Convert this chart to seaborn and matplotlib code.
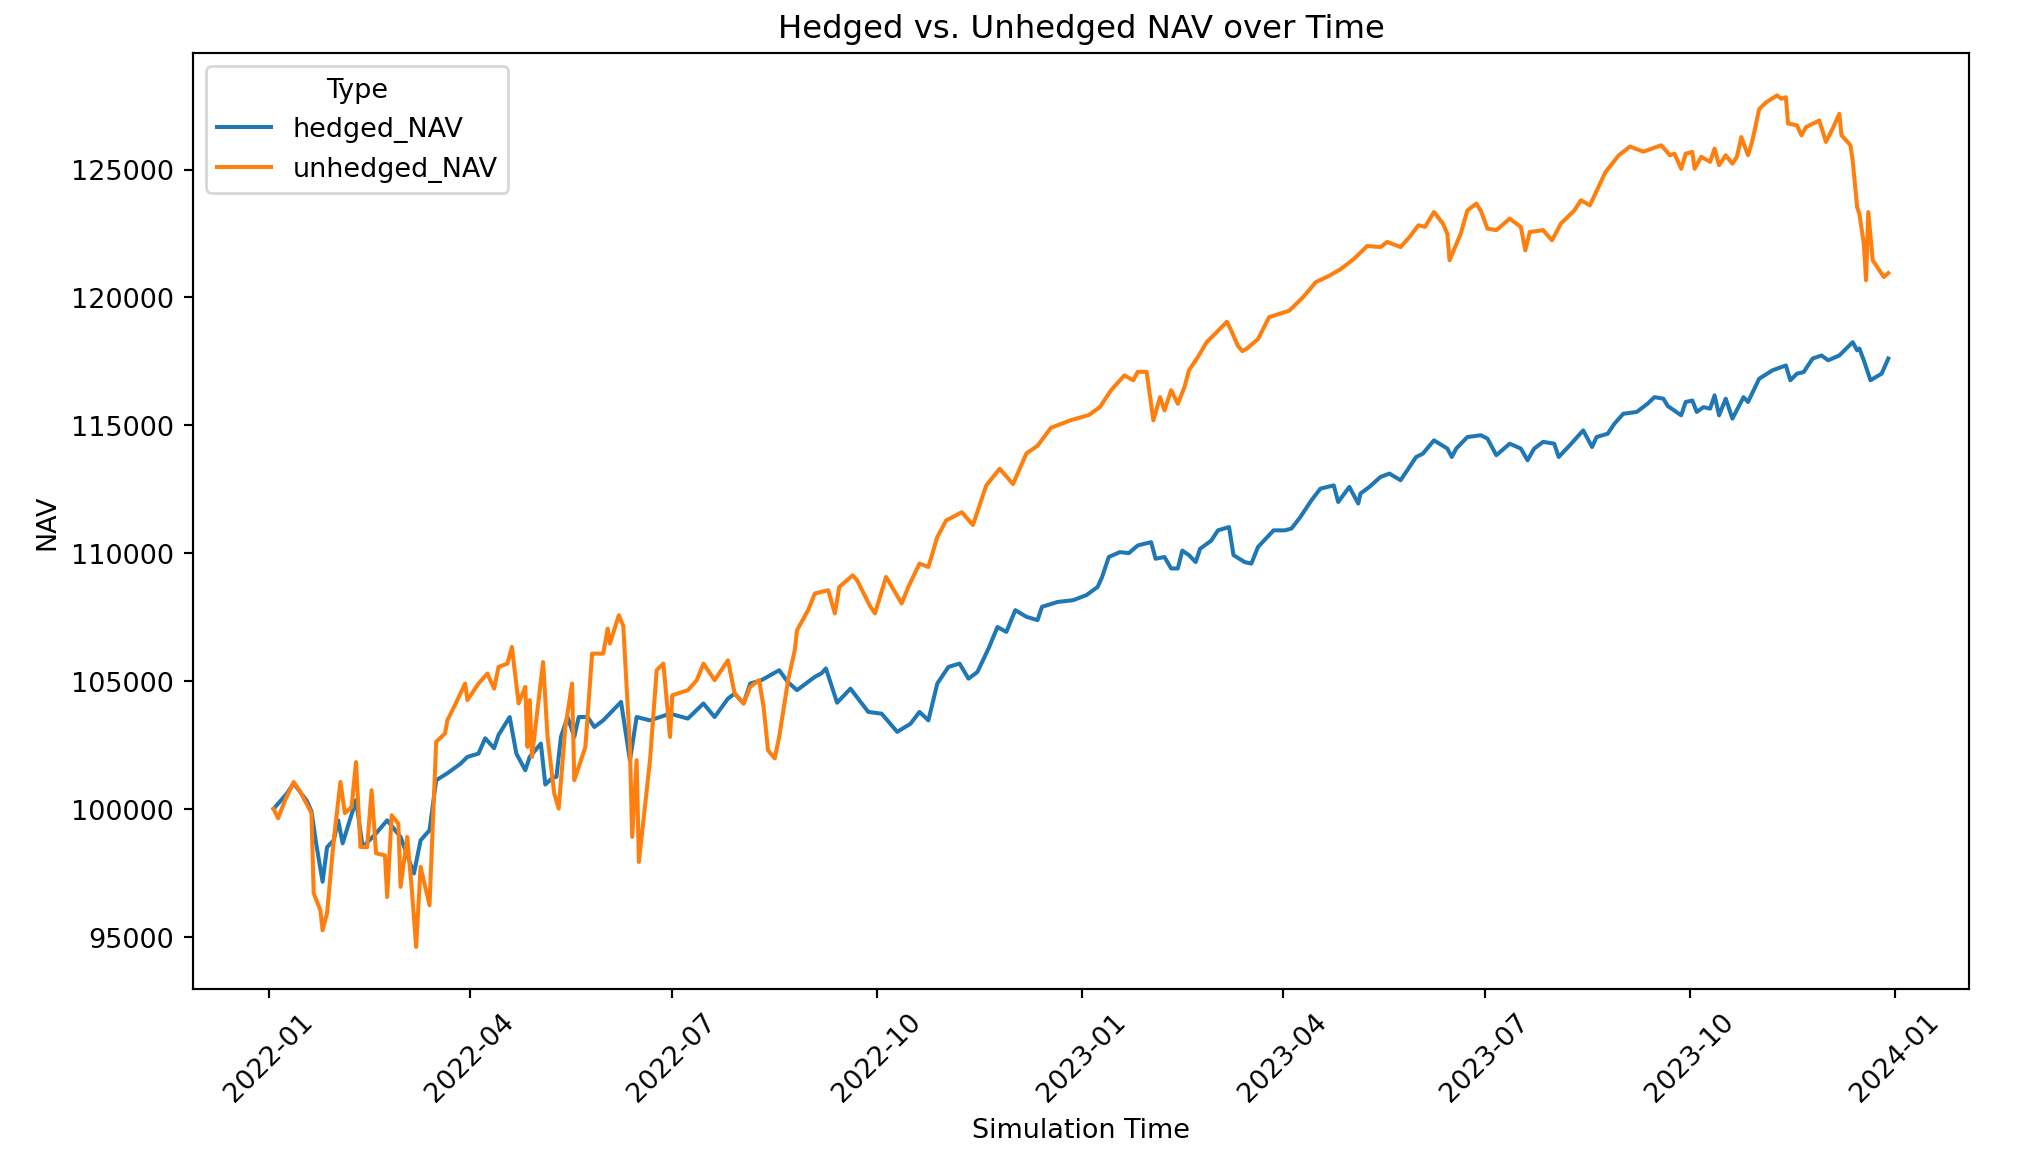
import matplotlib
matplotlib.use("Agg")
import matplotlib.pyplot as plt
import pandas as pd
import seaborn as sns

# simulation day counter (days since 2022-01-01) and NAV
hedged_day = [2, 5, 8, 11, 14, 17, 19, 21, 24, 26, 29, 31, 33, 39, 42, 48, 53, 59, 65, 68,
              72, 75, 80, 86, 89, 94, 97, 101, 103, 108, 111, 115, 117, 122, 124, 127, 129, 131,
              134, 137, 139, 143, 146, 150, 158, 162, 165, 171, 180, 188, 195, 200, 206, 209,
              213, 216, 221, 229, 233, 237, 245, 248, 250, 255, 261, 269, 275, 282, 288, 292,
              296, 300, 305, 310, 314, 318, 323, 327, 331, 335, 340, 345, 347, 354, 361, 367,
              372, 374, 377, 382, 386, 390, 396, 398, 402, 405, 408, 410, 413, 416, 418, 423,
              426, 431, 433, 438, 441, 444, 451, 456, 459, 463, 468, 472, 478, 480, 485, 489,
              490, 494, 499, 503, 508, 511, 515, 518, 523, 529, 531, 533, 538, 544, 547, 551,
              557, 562, 565, 568, 572, 577, 579, 584, 590, 594, 596, 601, 604, 608, 614, 619,
              622, 626, 628, 634, 636, 639, 641, 644, 647, 649, 651, 654, 657, 662, 664, 669,
              675, 681, 683, 686, 689, 693, 697, 700, 705, 711, 713, 714, 716, 719, 724, 727]
hedged_nav = [100000, 100300, 100600, 101000, 100650, 100300, 99900, 98700, 97150, 98500,
              98770, 99550, 98650, 100340, 98500, 99040, 99550, 98900, 97470, 98770,
              99160, 101120, 101390, 101770, 102030, 102160, 102760, 102370, 102890, 103590,
              102160, 101510, 102030, 102550, 100950, 101200, 101250, 102810,
              103590, 102810, 103590, 103590, 103200, 103460, 104180, 101900, 103590, 103460,
              103720, 103530, 104120, 103590, 104310, 104510,
              104120, 104900, 105030, 105420, 104950, 104640, 105160, 105300, 105490, 104150,
              104700, 103790, 103720, 103010, 103330, 103790,
              103460, 104900, 105550, 105680, 105090, 105350, 106270, 107110, 106920, 107770,
              107510, 107380, 107900, 108090, 108160, 108360,
              108680, 109070, 109850, 110040, 110000, 110300, 110430, 109780, 109850, 109400,
              109400, 110100, 109920, 109650, 110170, 110490,
              110890, 111020, 109920, 109650, 109590, 110240, 110890, 110890, 110960, 111410,
              112070, 112520, 112650, 112000, 112590, 111940,
              112330, 112590, 112980, 113110, 112850, 113240, 113760, 113890, 114410, 114090,
              113760, 114090, 114540, 114610, 114480, 113830,
              114280, 114090, 113630, 114090, 114350, 114280, 113760, 114220, 114800, 114150,
              114540, 114670, 115060, 115450, 115520, 115850,
              116100, 116040, 115750, 115390, 115910, 115970, 115520, 115710, 115650, 116170,
              115390, 116040, 115260, 116100, 115910, 116820,
              117150, 117340, 116760, 117020, 117080, 117610, 117730, 117540, 117730, 118250,
              117930, 118000, 117540, 116760, 117020, 117610]

unhedged_day = [2, 4, 7, 11, 14, 19, 20, 23, 24, 26, 29, 32, 34, 37, 39, 41, 44, 46, 48, 52,
                53, 55, 58, 59, 62, 64, 66, 68, 72, 75, 79, 80, 83, 88, 89, 94, 98, 101, 103,
                107, 109, 112, 115, 116, 117, 118, 123, 125, 128, 130, 133, 136, 137, 142, 145,
                150, 152, 153, 157, 159, 162, 163, 165, 166, 171, 174, 177, 180, 181, 188, 192,
                195, 200, 206, 209, 213, 216, 220, 222, 224, 227, 229, 233, 236, 237, 242, 245,
                251, 254, 256, 262, 264, 270, 272, 277, 284, 287, 292, 296, 300, 304, 311, 316,
                322, 328, 334, 340, 345, 351, 360, 368, 373, 378, 384, 388, 390, 394, 397, 400,
                402, 405, 408, 411, 413, 417, 421, 425, 430, 432, 435, 437, 439, 444, 449, 458,
                464, 470, 476, 481, 487, 493, 499, 502, 508, 512, 516, 519, 523, 527, 529, 530,
                535, 538, 542, 544, 547, 551, 557, 562, 564, 566, 572, 576, 580, 586, 589, 593,
                600, 606, 611, 617, 625, 629, 631, 634, 636, 639, 640, 643, 647, 649, 651, 654,
                657, 659, 661, 664, 666, 669, 672, 677, 679, 681, 682, 686, 688, 690, 696, 699,
                702, 705, 706, 710, 711, 713, 714, 716, 717, 718, 720, 725, 727]
unhedged_nav = [100000, 99630, 100300, 101050, 100660, 99830, 96700, 96030, 95250, 95920,
                98770, 101050, 99830, 100070, 101830, 98510, 98500, 100730, 98260, 98180,
                96550, 99750, 99420, 96950, 98900, 96900, 94600, 97730, 96230, 102620,
                102950, 103460, 103980, 104900, 104250, 104900, 105290, 104700, 105550,
                105680, 106330, 104120, 104770, 102420, 104250, 102030, 105740, 102810, 100600,
                100010, 103200, 104900, 101120, 102420, 106070,
                106070, 107050, 106460, 107570, 107150, 102420, 98900, 101900, 97920, 101900,
                105420, 105680, 102810, 104440, 104640, 105030,
                105680, 105030, 105810, 104510, 104120, 104770, 105030, 103980, 102290, 101970,
                102810, 105030, 106200, 106980, 107770, 108420,
                108550, 107640, 108680, 109130, 108940, 107900, 107640, 109070, 108030, 108680,
                109590, 109460, 110630, 111280, 111600, 111100,
                112650, 113300, 112700, 113900, 114200, 114900, 115200, 115400, 115710, 116370,
                116950, 116760, 117090, 117090, 115190, 116100,
                115580, 116370, 115840, 116500, 117150, 117670, 118260, 118600, 119050, 118700,
                118100, 117900, 118000, 118370, 119230, 119480,
                119990, 120600, 120850, 121100, 121500, 122010, 121970, 122170, 121970, 122360,
                122820, 122760, 123340, 122890, 122490, 121450,
                122490, 123400, 123670, 123400, 122690, 122630, 123080, 122760, 121840, 122560,
                122630, 122230, 122890, 123400, 123800, 123600,
                124900, 125560, 125900, 125700, 125950, 125560, 125620, 125030, 125620, 125690,
                125030, 125500, 125300, 125820, 125170, 125560,
                125230, 125500, 126270, 125560, 126140, 127360, 127620, 127900, 127770, 127830,
                126800, 126730, 126340, 126660, 126920, 126080,
                126600, 127180, 126340, 125950, 125360, 123530, 123270, 122100, 120670, 123340,
                121450, 120800, 120950]

start = pd.Timestamp("2022-01-01")
hedged = pd.DataFrame({"Simulation Time": start + pd.to_timedelta(hedged_day, unit="D"),
                       "NAV": hedged_nav, "Type": "hedged_NAV"})
unhedged = pd.DataFrame({"Simulation Time": start + pd.to_timedelta(unhedged_day, unit="D"),
                         "NAV": unhedged_nav, "Type": "unhedged_NAV"})
df = pd.concat([hedged, unhedged], ignore_index=True)

fig = plt.figure(figsize=(10.41, 6.02), dpi=194)
ax = sns.lineplot(data=df, x="Simulation Time", y="NAV", hue="Type")
plt.title("Hedged vs. Unhedged NAV over Time")
plt.xticks(rotation=45)
plt.subplots_adjust(left=0.0955, right=0.975, top=0.954, bottom=0.152)
plt.savefig("out.png", dpi=194)
